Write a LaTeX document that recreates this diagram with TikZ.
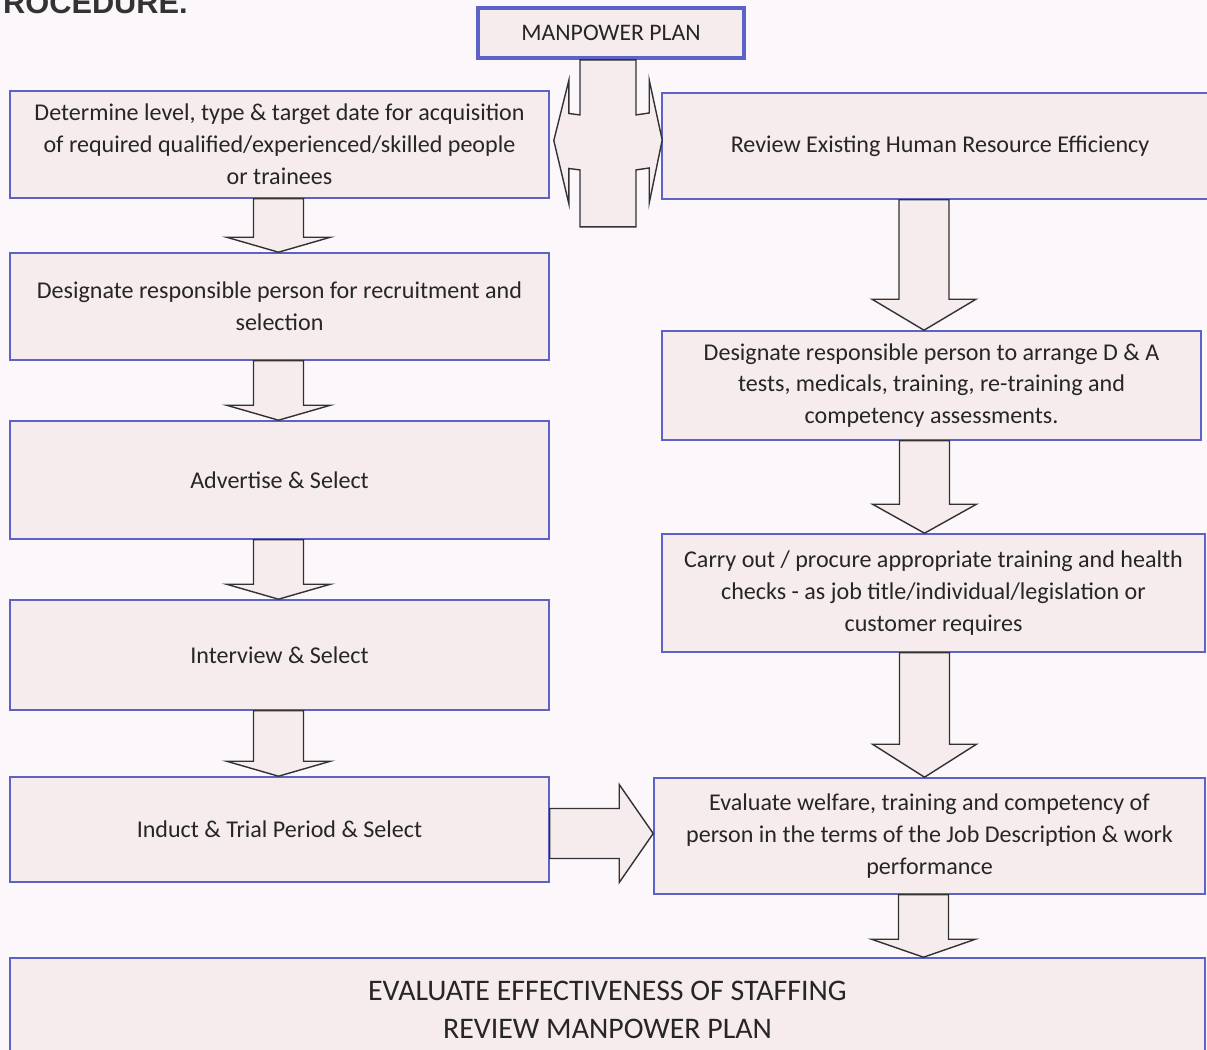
\documentclass[tikz,border=0pt]{standalone}
\usepackage{fontspec}
\setmainfont{Carlito}
\newfontfamily\headfont{Liberation Sans}
\usetikzlibrary{calc}
\definecolor{paper}{RGB}{252,247,250}
\definecolor{boxfill}{RGB}{246,236,237}
\definecolor{boxline}{RGB}{92,98,198}
\definecolor{arrowline}{RGB}{50,50,50}

\newcommand{\dnarrow}[4]{%
  \path ($(#1.south)+(#3,0)$) coordinate (s) (s |- #2.north) coordinate (e);
  \draw[blockarrow] ($(s)+(-25,0)$) -- ($(s)+(25,0)$) -- ($(e)+(25,-#4)$) -- ($(e)+(52,-#4)$)
    -- (e) -- ($(e)+(-52,-#4)$) -- ($(e)+(-25,-#4)$) -- cycle;}

\begin{document}
\begin{tikzpicture}[x=0.02cm, y=-0.02cm,
  box/.style={draw=boxline, line width=0.9pt, fill=boxfill, align=center, text=black!85,
    font=\fontsize{13.7}{18.1}\selectfont, inner sep=0pt},
  wh/.style 2 args={minimum width=#1*0.02cm, minimum height=#2*0.02cm},
  blockarrow/.style={draw=arrowline, line width=0.8pt, fill=boxfill, line join=miter}]
  \useasboundingbox (0,0) rectangle (1207,1050);
  \fill[paper] (0,0) rectangle (1207,1050);
  \clip (0,0) rectangle (1207,1050);

  \node[anchor=base west, text=black!80, font=\headfont\bfseries\fontsize{17.5}{20}\selectfont] (title) at (-3,14) {ROCEDURE.};

  \node[box, wh={266}{50}, line width=2.2pt, font=\fontsize{13.5}{16}\selectfont] (plan) at (611,33) {MANPOWER PLAN};

  \node[box, wh={539}{107}] (detL) at (279.5,144.5) {Determine level, type \& target date for acquisition\\of required qualified/experienced/skilled people\\or trainees};
  \node[box, wh={539}{107}] (desL) at (279.5,306.5) {Designate responsible person for recruitment and\\selection};
  \node[box, wh={539}{118}] (adv) at (279.5,480) {Advertise \& Select};
  \node[box, wh={539}{110}] (intv) at (279.5,655) {Interview \& Select};
  \node[box, wh={539}{105}] (induct) at (279.5,829.5) {Induct \& Trial Period \& Select};

  \node[box, wh={556}{106}] (review) at (940,146) {Review Existing Human Resource Efficiency};
  \node[box, wh={539}{109}] (desR) at (931.5,385.5) {Designate responsible person to arrange D \& A\\tests, medicals, training, re-training and\\competency assessments.};
  \node[box, wh={543}{118}] (carry) at (933.5,593) {Carry out / procure appropriate training and health\\checks - as job title/individual/legislation or\\customer requires};
  \node[box, wh={551}{116}] (evalw) at (929.5,836) {Evaluate welfare, training and competency of\\person in the terms of the Job Description \& work\\performance};

  \node[box, wh={1195}{104}, font=\fontsize{17}{21.5}\selectfont] (final) at (607.5,1010) {EVALUATE EFFECTIVENESS OF STAFFING\\REVIEW MANPOWER PLAN};

  \path (plan.south) coordinate (top)
    ($(detL.east)+(4,-4)$) coordinate (lt)
    ($(review.west)+(1,-6)$) coordinate (rt);
  \draw[blockarrow] ($(top)+(-31,0)$) -- ($(top)+(25,0)$) -- ($(top)+(25,55)$) -- ($(rt)+(-13,-27)$)
    -- ($(rt)+(-13,-60)$) -- (rt) -- ($(rt)+(-13,63)$) -- ($(rt)+(-13,28)$) -- ($(top)+(25,110)$)
    -- ($(top)+(25,167)$) -- ($(top)+(-31,167)$) -- ($(top)+(-31,110)$) -- ($(lt)+(15,28)$)
    -- ($(lt)+(15,63)$) -- (lt) -- ($(lt)+(15,-60)$) -- ($(lt)+(15,-27)$) -- ($(top)+(-31,55)$) -- cycle;

  \dnarrow{detL}{desL}{-1}{15}
  \dnarrow{desL}{adv}{-1}{15}
  \dnarrow{adv}{intv}{-1}{15}
  \dnarrow{intv}{induct}{-1}{15}
  \dnarrow{review}{desR}{-16}{31}
  \dnarrow{desR}{carry}{-7}{29}
  \dnarrow{carry}{evalw}{-9}{33}
  \dnarrow{evalw}{final}{-6}{18}

  \path ($(induct.east)+(0,4)$) coordinate (s) (evalw.west |- s) coordinate (e);
  \draw[blockarrow] ($(s)+(0,-25)$) -- ($(e)+(-34,-25)$) -- ($(e)+(-34,-49)$) -- (e)
    -- ($(e)+(-34,49)$) -- ($(e)+(-34,25)$) -- ($(s)+(0,25)$) -- cycle;
\end{tikzpicture}
\end{document}
